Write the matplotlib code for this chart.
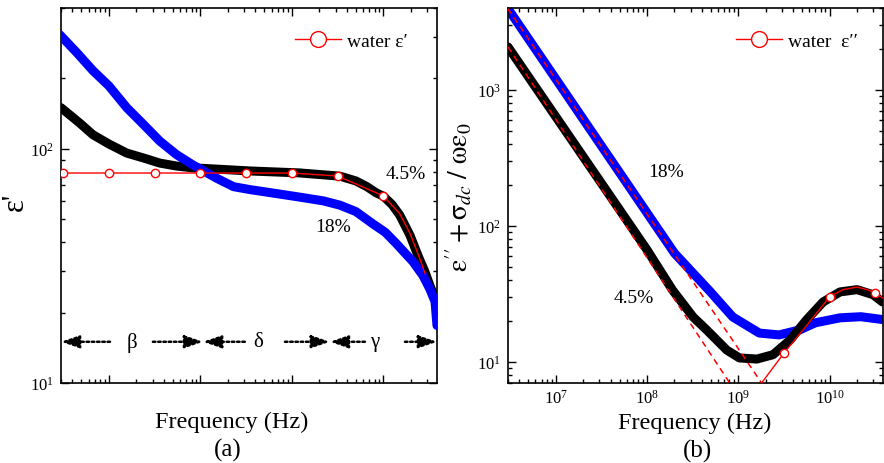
import numpy as np
import matplotlib
matplotlib.use("Agg")
import matplotlib.pyplot as plt
from matplotlib.ticker import LogLocator, NullFormatter

plt.rcParams['font.family'] = ['Liberation Serif', 'DejaVu Serif']
plt.rcParams['mathtext.fontset'] = 'stix'

# ---- panel (a): real permittivity ----
f_a_45 = [3e6, 4.8e6, 6.7e6, 1e7, 1.57e7, 2.5e7, 3.6e7, 5.5e7, 8.3e7, 1.5e8,
          3.5e8, 1.2e9, 3.35e9, 5e9, 6.6e9, 8.3e9, 1e10, 1.25e10, 1.51e10,
          1.95e10, 2.38e10, 2.84e10, 3.22e10, 3.66e10]
eps1_45 = [150, 129, 115, 105, 96, 91, 87, 84.5, 83, 82,
           80.5, 79, 76.5, 73, 69, 65, 62.8, 57.7, 52.1,
           42.8, 35.1, 29.9, 26.1, 23]

f_a_18 = [2.9e6, 4.5e6, 6.7e6, 1e7, 1.57e7, 2.4e7, 3.6e7, 5.5e7, 8.3e7, 1.5e8,
          2.3e8, 3.5e8, 5.3e8, 1.2e9, 2.2e9, 3.35e9, 5e9, 7.7e9, 1.05e10,
          1.4e10, 2.1e10, 2.7e10, 3.2e10, 3.66e10, 3.85e10]
eps1_18 = [308, 257, 216, 186, 150, 127, 108, 94.5, 85.4, 75,
           69, 67, 65.4, 62.3, 60, 57.5, 54, 47.8, 44,
           39.2, 33, 28.8, 25.3, 22.3, 17.6]

f_water1 = [3.16e6, 1e7, 3.16e7, 1e8, 3.16e8, 1e9, 3.16e9, 1e10,
            1.5e10, 1.95e10, 2.5e10, 2.85e10]
eps1_water = [78.9, 78.9, 78.9, 78.9, 78.9, 78.9, 76.6, 63,
              53, 43.6, 34, 29.4]

# relaxation regions (beta, delta, gamma)
region_bounds = [3e6, 1.07e8, 2.6e9, 3.85e10]
region_names = ['β', 'δ', 'γ']
region_label_f = [1.78e7, 4.25e8, 8.07e9]
region_gap_left = [1.03e7, 3.06e8, 6.28e9]
region_gap_right = [3.03e7, 8.4e8, 1.72e10]

# ---- panel (b): loss + dc conduction ----
f_b_45 = [3e6, 1e8, 1.9e8, 3.2e8, 4.5e8, 7.5e8, 1.03e9, 1.6e9, 2.4e9, 3.7e9,
          5.6e9, 8.5e9, 1.3e10, 2e10, 3e10, 3.8e10]
eps2_45 = [2070, 66.7, 33.8, 21.4, 17.2, 12.2, 10.7, 10.5, 11.3, 14.5,
           20.4, 27.6, 32.7, 34, 31.2, 27.6]

f_b_18 = [3e6, 2e8, 4.9e8, 8.7e8, 1.7e9, 2.8e9, 4.7e9, 7e9, 1.3e10, 2.2e10, 3.8e10]
eps2_18 = [3950, 63, 33, 21.4, 16.3, 15.8, 17.2, 19.4, 21.1, 21.5, 20.5]

f_dc_45 = [3e6, 8.05e8]
dc_45 = [2070, 7]
f_dc_18 = [3e6, 1.8e9]
dc_18 = [3950, 7]

f_water2 = [1e9, 1.8e9, 3.16e9, 5.6e9, 1e10, 1.4e10, 2e10, 2.6e10, 3.16e10, 3.85e10]
eps2_water = [3.8, 7, 11.6, 18.5, 30.1, 34, 35.5, 34, 32.1, 29.5]

fig = plt.figure(figsize=(8.84, 4.64), dpi=100)
ax1 = fig.add_axes([61/884, 80/464, 376/884, 375/464])
ax2 = fig.add_axes([508/884, 80/464, 375/884, 375/464])


def style_axes(ax):
    ax.set_xscale('log')
    ax.set_yscale('log')
    ax.tick_params(which='both', direction='in', top=True, right=True, width=1.0)
    ax.tick_params(which='major', length=6, labelsize=12, pad=5)
    ax.tick_params(axis='x', which='major', pad=4)
    ax.tick_params(which='minor', length=3)
    ax.xaxis.set_minor_locator(LogLocator(base=10, subs=np.arange(2, 10), numticks=20))
    ax.yaxis.set_minor_locator(LogLocator(base=10, subs=np.arange(2, 10), numticks=20))
    ax.xaxis.set_minor_formatter(NullFormatter())
    ax.yaxis.set_minor_formatter(NullFormatter())
    for s in ax.spines.values():
        s.set_linewidth(1.2)


style_axes(ax1)
style_axes(ax2)

# panel (a)
ax1.plot(f_a_45, eps1_45, color='k', lw=6.5, solid_capstyle='round',
         solid_joinstyle='round', zorder=2)
ax1.plot(f_a_18, eps1_18, color='#0000ff', lw=6.5, solid_capstyle='round',
         solid_joinstyle='round', zorder=3)
ax1.plot(f_water1, eps1_water, color='red', lw=1, marker='o', ms=6, mfc='white',
         mec='red', mew=1, markevery=list(range(8)), zorder=4, label='water ε′')
ax1.set_xlim(3e6, 3.85e10)
ax1.set_ylim(10, 400)
ax1.xaxis.set_major_formatter(NullFormatter())

arrow_y = 15
for i in range(3):
    for tip, tail in [(region_bounds[i], region_gap_left[i]),
                      (region_bounds[i + 1], region_gap_right[i])]:
        ax1.annotate('', xy=(tip, arrow_y), xytext=(tail, arrow_y),
                     arrowprops=dict(arrowstyle='-|>,head_length=1.1,head_width=0.38',
                                     color='k', lw=1.8, ls=(0, (1, 1.1)),
                                     shrinkA=0, shrinkB=0, mutation_scale=10))
    ax1.text(region_label_f[i], arrow_y, region_names[i], ha='center', va='center',
             fontsize=15)

ax1.text(1.76e10, 78.9, '4.5%', ha='center', va='center', fontsize=14)
ax1.text(2.8e9, 46.7, '18%', ha='center', va='center', fontsize=14)
ax1.legend(loc='center right', bbox_to_anchor=(0.923, 0.912), frameon=False,
           fontsize=14, handlelength=2.4, handletextpad=0.3, markerscale=1.9,
           borderpad=0, borderaxespad=0)

# panel (b)
ax2.plot(f_b_18, eps2_18, color='#0000ff', lw=6.5, solid_capstyle='round',
         solid_joinstyle='round', zorder=2)
ax2.plot(f_b_45, eps2_45, color='k', lw=6.5, solid_capstyle='round',
         solid_joinstyle='round', zorder=3)
ax2.plot(f_dc_45, dc_45, color='red', lw=1.1, ls=(0, (4, 3)), zorder=4)
ax2.plot(f_dc_18, dc_18, color='red', lw=1.1, ls=(0, (4, 3)), zorder=4)
ax2.plot(f_water2, eps2_water, color='red', lw=1, marker='o', ms=6, mfc='white',
         mec='red', mew=1, markevery=[0, 2, 4, 8], zorder=5, label='water  ε′′')
ax2.set_xlim(3e6, 3.85e10)
ax2.set_ylim(7, 4000)

ax2.text(1.6e8, 250, '18%', ha='center', va='center', fontsize=14)
ax2.text(7.15e7, 29.6, '4.5%', ha='center', va='center', fontsize=14)
ax2.legend(loc='center right', bbox_to_anchor=(0.933, 0.912), frameon=False,
           fontsize=14, handlelength=2.4, handletextpad=0.3, markerscale=1.9,
           borderpad=0, borderaxespad=0)

# axis titles
fig.text(15/884, 1 - 202/464, "ε'", rotation=90, ha='center',
         va='center', fontsize=22)
fig.text(459/884, 1 - 197/464,
         r"$\mathrm{\varepsilon}'' + \mathrm{\sigma}_{dc}\ /\ \mathrm{\omega\varepsilon}_{0}$",
         rotation=90, ha='center', va='center', fontsize=20)
fig.text(232/884, 1 - 422/464, 'Frequency (Hz)', ha='center', va='center', fontsize=17.5)
fig.text(228/884, 1 - 450/464, '(a)', ha='center', va='center', fontsize=18)
fig.text(695/884, 1 - 423/464, 'Frequency (Hz)', ha='center', va='center', fontsize=17.5)
fig.text(698/884, 1 - 451/464, '(b)', ha='center', va='center', fontsize=18)

fig.savefig('out.png', dpi=100)
